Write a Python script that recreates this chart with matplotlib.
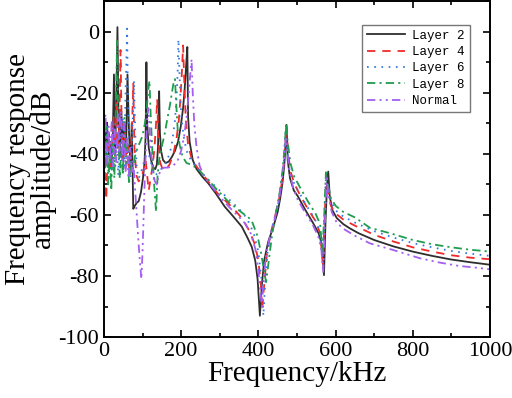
import numpy as np
import matplotlib.pyplot as plt
from matplotlib.ticker import MultipleLocator

plt.rcParams['font.family'] = 'Liberation Serif'
plt.rcParams['axes.unicode_minus'] = False
plt.rcParams['lines.scale_dashes'] = False

# Layer 2 (solid black)
f_l2 = [0, 4, 8, 12, 16, 20, 23, 26, 29, 32, 35, 38, 41, 45, 49, 53, 57, 61, 65, 69, 72, 76, 80, 85, 90,
        96, 101, 105, 108, 110, 112, 116, 122, 128, 133, 137, 140, 143, 145, 148, 153, 160, 168, 176, 184,
        192, 199, 205, 209, 213, 216, 218, 222, 230, 240, 255, 270, 290, 313, 335, 357, 372, 383, 392, 398,
        404, 409, 415, 425, 439, 450, 456, 462, 467, 470, 473, 476, 482, 492, 503, 520, 542, 556, 564, 570,
        574, 578, 581, 585, 592, 603, 620, 637, 660, 700, 750, 800, 850, 900, 950, 1000]
db_l2 = [-28, -38, -30, -40, -36, -44, -34, -14, -38, -25, 1.5, -30, -41, -26, -38, -30, -40, -14, -33, -45, -30,
         -58, -57, -56, -55.5, -52.5, -48, -43, -34, -10, -30, -38, -42, -44.5, -45, -43.5, -38, -19.5, -33, -39,
         -42, -43, -42.5, -41, -39, -36, -31, -25, -19, -11, -5, -28, -36, -42, -45, -47.5, -49.6, -53, -57.3,
         -60.5, -63.8, -67.5, -70.5, -75, -81, -93, -83, -75, -69, -63.8, -59, -55, -50, -44, -38, -30.5, -42,
         -48, -52, -54, -58, -62.7, -66, -69.3, -79.7, -62, -50, -45.8, -54, -58.5, -61, -63, -64.4, -66,
         -68.2, -70.3, -72, -73.4, -74.6, -75.5, -76.3]

# Layer 4 (red dashed)
f_l4 = [0, 3, 6, 9, 13, 17, 21, 25, 29, 33, 36, 40, 43, 46, 50, 54, 58, 62, 66, 70, 73, 76, 79, 84, 90, 97,
        103, 108, 112, 116, 121, 126, 131, 135, 138, 141, 146, 152, 160, 170, 180, 188, 194, 198, 202, 205,
        208, 212, 218, 228, 245, 270, 295, 320, 340, 360, 378, 392, 400, 406, 410, 415, 422, 432, 442, 452,
        460, 466, 470, 473, 477, 484, 494, 508, 528, 548, 560, 567, 571, 576, 580, 588, 600, 620, 650, 700,
        750, 800, 850, 900, 950, 1000]
db_l4 = [-36, -48, -55, -42, -33, -45, -38, -28, -42, -22, -38, -30, -6, -32, -45, -32, -44, -36, -47, -40,
         -30, -17, -38, -47, -49, -48, -45, -42, -47, -52, -48, -44, -38, -30, -22, -35, -43, -45, -45, -43.5,
         -40, -35, -29, -22, -13, -4.5, -16, -29, -37, -42, -45, -49, -53, -56, -58.5, -61.5, -65.5, -70, -75,
         -82, -91, -83, -73, -66, -61, -56, -50, -43, -36, -31, -40, -46, -50, -53.5, -58, -62, -66, -76, -63,
         -47, -51, -57, -59.5, -61.5, -63.5, -66.5, -68.7, -70.6, -72, -73.2, -74, -74.5]

# Layer 6 (blue dotted)
f_l6 = [0, 4, 8, 12, 16, 20, 25, 29, 33, 37, 41, 45, 49, 52, 56, 58, 60, 62, 65, 69, 73, 76, 78, 81, 85, 90,
        96, 103, 110, 116, 122, 128, 134, 140, 148, 156, 164, 172, 178, 184, 188, 191, 193, 196, 200, 206,
        214, 225, 240, 255, 275, 300, 325, 350, 370, 388, 400, 408, 413, 417, 423, 432, 442, 452, 460, 466,
        470, 474, 480, 490, 505, 525, 545, 558, 566, 570, 575, 580, 588, 600, 620, 650, 700, 750, 800, 850,
        900, 950, 1000]
db_l6 = [-27, -44, -33, -48, -36, -46, -30, -45, -35, -47, -32, -42, -28, -45, -20, -10, 1, -20, -40, -48, -36,
         -24, -16, -33, -45, -48, -46, -43, -40, -40, -43, -46, -47, -46, -45, -44, -42, -39, -35, -29, -22,
         -13, -2.5, -15, -27, -34, -39, -42, -44.5, -46.5, -49, -52, -55, -58, -61, -66, -72, -81, -93, -84,
         -73, -66, -61, -56, -49, -42, -33, -38, -45, -49, -52.5, -57, -61, -65, -74, -64, -47, -51, -55.5,
         -58.5, -60.5, -62.5, -65.3, -67.4, -69.2, -70.6, -71.8, -72.7, -73.4]

# Layer 8 (green dash-dot)
f_l8 = [0, 3, 7, 11, 15, 19, 23, 27, 31, 34, 37, 41, 45, 49, 53, 57, 61, 65, 69, 74, 80, 87, 94, 100, 106,
        111, 115, 118, 121, 125, 130, 135, 139, 144, 151, 158, 165, 171, 176, 180, 184, 187, 191, 196, 204,
        214, 226, 244, 270, 295, 322, 350, 382, 398, 408, 413, 420, 426, 435, 446, 456, 463, 468, 472, 476,
        483, 493, 508, 528, 548, 560, 566, 570, 575, 580, 588, 600, 620, 650, 689, 750, 800, 850, 900, 950,
        1000]
db_l8 = [-33, -45, -31, -50, -40, -52, -35, -48, -25, -3, -30, -48, -38, -47, -28, -44, -37, -50, -42, -46,
         -41, -38, -36, -34, -30, -25, -19, -16, -27, -38, -50, -59, -47, -41, -37, -33, -28, -24, -20, -17,
         -15.5, -23, -32, -37, -41, -43, -43.5, -45, -48.5, -52, -55.6, -58.5, -61.6, -67, -73, -77, -82, -76,
         -67, -59, -52, -45, -38, -30, -36, -43, -47.5, -51, -55.5, -59.5, -63, -72, -62, -46, -50, -54.5,
         -57, -59, -60.8, -64.2, -66.3, -68.2, -69.6, -70.6, -71.4, -72]

# Normal (purple dash-dot-dot)
f_nm = [0, 4, 8, 12, 16, 20, 24, 28, 32, 36, 40, 44, 48, 52, 56, 60, 64, 68, 72, 76, 80, 85, 89, 93, 97,
        100, 104, 108, 112, 115, 118, 122, 127, 132, 137, 142, 148, 156, 166, 178, 190, 200, 208, 214, 219,
        223, 227, 230, 234, 240, 248, 260, 275, 300, 325, 345, 365, 380, 392, 400, 406, 409, 413, 420, 430,
        441, 452, 461, 467, 471, 475, 481, 490, 502, 520, 540, 555, 563, 568, 572, 577, 581, 590, 603, 620,
        650, 689, 750, 819, 870, 920, 960, 1000]
db_nm = [-34, -27, -44, -31, -42, -29, -45, -32, -43, -27, -40, -26, -42, -30, -46, -35, -48, -38, -46, -42,
         -50, -60, -68, -75, -81, -72, -55, -40, -29, -25, -31, -40, -46, -49, -50, -47, -45, -44.5, -44.5,
         -44, -42.5, -39, -34, -28, -21, -15, -9, -20, -30, -38, -44, -47.5, -50, -54, -57.5, -60, -62.7, -66,
         -71, -78, -86, -90, -82, -73, -67, -62, -56, -49, -42, -35, -39, -46, -51, -55, -59, -63, -67, -71,
         -79, -64, -48, -53, -59, -62.5, -64.5, -66.8, -69.3, -71.5, -74.2, -75.6, -76.7, -77.2, -77.8]

fig, ax = plt.subplots(figsize=(5.12, 3.98), dpi=100)
fig.subplots_adjust(left=0.203, right=0.957, top=0.997, bottom=0.153)

lw = 1.3
ax.plot(f_l2, db_l2, color='#2e2e2e', lw=lw, label='Layer 2')
ax.plot(f_l4, db_l4, color='#f02a2a', lw=lw, ls=(0, (6, 5)), label='Layer 4')
ax.plot(f_l6, db_l6, color='#3578e5', lw=lw, ls=(0, (1.2, 4)), label='Layer 6')
ax.plot(f_l8, db_l8, color='#1f9c4e', lw=lw, ls=(0, (6, 3, 1.5, 3)), label='Layer 8')
ax.plot(f_nm, db_nm, color='#a45ff0', lw=lw, ls=(0, (6, 3, 1.5, 3, 1.5, 3)), label='Normal')

ax.set_xlim(0, 1000)
ax.set_ylim(-100, 10)
ax.xaxis.set_major_locator(MultipleLocator(200))
ax.xaxis.set_minor_locator(MultipleLocator(100))
ax.yaxis.set_major_locator(MultipleLocator(20))
ax.yaxis.set_minor_locator(MultipleLocator(10))
ax.tick_params(which='both', direction='in', top=True, right=True, labelsize=16, width=1.2)
ax.tick_params(which='major', length=5)
ax.tick_params(which='minor', length=3)
for s in ax.spines.values():
    s.set_linewidth(1.4)

ax.set_xlabel('Frequency/kHz', fontsize=21, labelpad=0)
ax.set_ylabel('Frequency response\namplitude/dB', fontsize=21, linespacing=0.95)
ax.yaxis.set_label_coords(-0.125, 0.5)

leg = ax.legend(loc='upper right', bbox_to_anchor=(0.948, 0.93), borderaxespad=0,
                prop={'family': 'Liberation Mono', 'size': 9}, fancybox=False,
                handlelength=3.0, labelspacing=0.35, borderpad=0.4, handletextpad=0.6)
leg.get_frame().set_edgecolor('#555555')
leg.get_frame().set_linewidth(1.0)

plt.savefig('out.png', dpi=100)
